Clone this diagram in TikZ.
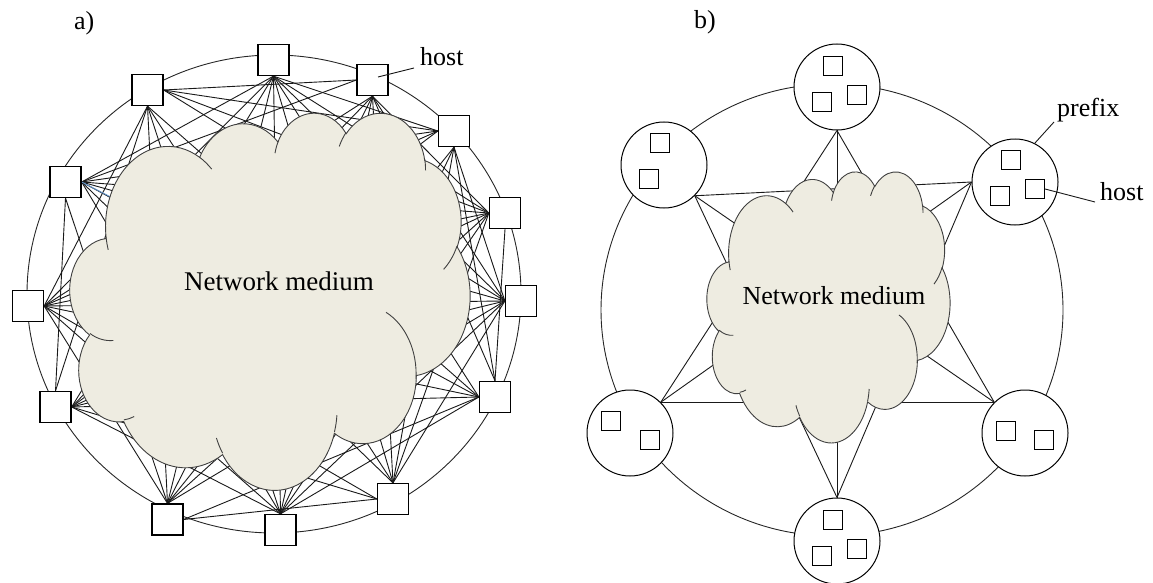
\documentclass[tikz,border=0pt]{standalone}
\usepackage{fontspec}
\setmainfont{Liberation Serif}
\pgfdeclarelayer{back}
\pgfsetlayers{back,main}

\definecolor{cloudfill}{RGB}{238,236,225}
\definecolor{cloudedge}{RGB}{64,64,64}
\definecolor{linkblue}{RGB}{95,145,200}

\tikzset{
  host/.style={draw,fill=white,line width=1.3pt,minimum size=31pt,inner sep=0pt},
  hostsmall/.style={draw,fill=white,line width=1.1pt,minimum size=19pt,inner sep=0pt},
  prefixring/.style={draw,circle,fill=white,line width=1pt,minimum size=86pt,inner sep=0pt},
  link/.style={line width=0.9pt,black!90},
  ring/.style={line width=0.9pt,black!85},
  cloudbody/.style={fill=cloudfill,draw=cloudedge,line width=0.9pt},
  crease/.style={draw=cloudedge,line width=0.9pt},
  lbl/.style={font=\fontsize{26}{30}\selectfont,inner sep=0pt,anchor=base west},
  medium/.style={inner sep=0pt,anchor=base},
}

% one lobe of the cloud: radii, start angle, sweep (angles as seen)
\newcommand{\carc}[4]{arc[x radius=#1,y radius=#2,
  start angle={atan2(#1*sin(#3),#2*cos(#3))},
  delta angle={Mod(atan2(#1*sin(#3+#4),#2*cos(#3+#4))-atan2(#1*sin(#3),#2*cos(#3)),360)}]}

% cloud in a 43.2 x 43.2 box, y pointing down
\newcommand{\cloudoutline}{(3.9,14.37)
  \carc{6.753}{9.19}{-190.4875}{123.7805}
  \carc{5.333}{7.267}{-144.1024}{89.9452}
  \carc{4.365}{5.945}{-145.8079}{99.723}
  \carc{4.857}{6.595}{-130.9861}{117.2417}
  \carc{5.333}{7.273}{-78.7089}{109.0269}
  \carc{6.775}{9.22}{-46.2673}{130.269}
  \carc{5.785}{7.867}{0.625}{114.0333}
  \carc{6.752}{9.215}{22.4516}{115.1726}
  \carc{7.72}{10.543}{66.2426}{75.711}
  \carc{4.36}{5.918}{-274.9421}{146.7356}
  \carc{4.345}{5.945}{-246.8285}{152.5189} -- cycle}
\newcommand{\cloudcreases}{%
  (4.693,26.177) \carc{4.345}{5.945}{86.742}{26.4295}
  (6.928,34.899) \carc{4.36}{5.918}{73.6105}{11.4475}
  (16.478,39.09) \carc{6.752}{9.215}{137.6241}{14.0811}
  (28.827,34.751) \carc{6.752}{9.215}{6.4533}{15.9984}
  (34.129,22.954) \carc{5.785}{7.867}{-70.2924}{76.1234}
  (41.798,15.354) \carc{5.333}{7.273}{30.318}{27.7515}
  (38.324,5.426) \carc{4.857}{6.595}{-13.744}{14.8589}
  (29.078,3.952) \carc{4.857}{6.595}{-149.1815}{18.1954}
  (22.141,4.72) \carc{4.365}{5.945}{-163.4943}{17.6864}
  (14,5.192) \carc{6.753}{9.19}{-66.707}{12.3194}
  (4.127,15.789) \carc{6.753}{9.19}{157.6544}{11.8582}}

% side of a host square that a link leaves from
\newcommand{\sideto}[5]{%
  \pgfmathsetmacro\tang{atan2((#5)-(#3),(#4)-(#2))}%
  \pgfmathsetmacro\iang{atan2(-294pt-(#3),274pt-(#2))}%
  \pgfmathtruncatemacro#1{90*round(((\tang)+(Mod((\iang)-(\tang)+180,360)-180)/2)/90)}%
}

\begin{document}
\begin{tikzpicture}[x=1pt,y=-1pt]
\useasboundingbox (0,0) rectangle (1153,583);

% a) every host linked to every other one
\node[host] (h1) at (273.5,60) {};
\node[host] (h2) at (372.5,80) {};
\node[host] (h3) at (454,131) {};
\node[host] (h4) at (505,213) {};
\node[host] (h5) at (521,301) {};
\node[host] (h6) at (495,397) {};
\node[host] (h7) at (393,499) {};
\node[host] (h8) at (280.5,530) {};
\node[host] (h9) at (167.5,519.5) {};
\node[host] (h10) at (55.5,407) {};
\node[host] (h11) at (28,306) {};
\node[host] (h12) at (65.5,182) {};
\node[host] (h13) at (147.5,90) {};
\coordinate (blueend) at (300,295);

\begin{pgfonlayer}{back}
  \draw[ring] (274,294) ellipse [x radius=247, y radius=239];
  \foreach \i in {1,...,11}{
    \pgfmathtruncatemacro\jfirst{\i+2}
    \pgfmathtruncatemacro\jlast{\i==1 ? 12 : 13}
    \foreach \j in {\jfirst,...,\jlast}{
      \path (h\i); \pgfgetlastxy{\xa}{\ya}
      \path (h\j); \pgfgetlastxy{\xb}{\yb}
      \sideto\sa{\xa}{\ya}{\xb}{\yb}
      \sideto\sb{\xb}{\yb}{\xa}{\ya}
      \draw[link] (h\i.\sa) -- (h\j.\sb);
    }
  }
  \draw[link,linkblue] (h12.east) -- (blueend);
  \begin{scope}[shift={(70,112)},x=9.259pt,y=-8.727pt]
    \draw[cloudbody] \cloudoutline;
    \draw[crease] \cloudcreases;
  \end{scope}
\end{pgfonlayer}

\node[medium,font=\fontsize{27}{32}\selectfont] (medA) at (279,290) {Network medium};
\node[lbl] (tagA) at (74,30) {a)};
\node[lbl] (hostA) at (420,66) {host};
\coordinate (hostAfrom) at (378,77);
\coordinate (hostAto) at (414,68);
\draw[link] (hostAfrom) -- (hostAto);

% b) prefixes on a ring
\node[prefixring] (p1) at (837,87) {};
\node[prefixring] (p2) at (664,165) {};
\node[prefixring] (p3) at (1015,182) {};
\node[prefixring] (p4) at (630,433) {};
\node[prefixring] (p5) at (1025,433) {};
\node[prefixring] (p6) at (837,541) {};

\node[hostsmall] (p1a) at (833,66) {};
\node[hostsmall] (p1b) at (822,102) {};
\node[hostsmall] (p1c) at (857,95) {};
\node[hostsmall] (p2a) at (660,143) {};
\node[hostsmall] (p2b) at (649,179) {};
\node[hostsmall] (p3a) at (1011,160) {};
\node[hostsmall] (p3b) at (1000,196) {};
\node[hostsmall] (p3c) at (1035,189) {};
\node[hostsmall] (p4a) at (611,421) {};
\node[hostsmall] (p4b) at (650,440) {};
\node[hostsmall] (p5a) at (1006,431) {};
\node[hostsmall] (p5b) at (1044,440) {};
\node[hostsmall] (p6a) at (833,520) {};
\node[hostsmall] (p6b) at (822,556) {};
\node[hostsmall] (p6c) at (857,549) {};

\begin{pgfonlayer}{back}
  \draw[ring] (832,310) ellipse [x radius=231, y radius=226];
  \foreach \a/\b in {p1.south/p4.45, p1.south/p6.north, p1.south/p5.135,
                     p2.-45/p3.west, p2.-45/p5.135, p2.-45/p6.north,
                     p3.west/p4.45, p3.west/p6.north, p4.45/p5.135}
    \draw[link] (\a) -- (\b);
  \begin{scope}[shift={(707,171)},x=5.625pt,y=-6.273pt]
    \draw[cloudbody] \cloudoutline;
    \draw[crease] \cloudcreases;
  \end{scope}
\end{pgfonlayer}

\node[medium,font=\fontsize{26}{30}\selectfont] (medB) at (834,304) {Network medium};
\node[lbl] (tagB) at (694,29) {b)};
\node[lbl] (prefixB) at (1057,117) {prefix};
\coordinate (prefixBto) at (1054,122);
\draw[link] (p3.63) -- (prefixBto);
\node[lbl] (hostB) at (1100,200) {host};
\coordinate (hostBto) at (1095,202);
\draw[link] (p3c.east) -- (hostBto);
\end{tikzpicture}
\end{document}
